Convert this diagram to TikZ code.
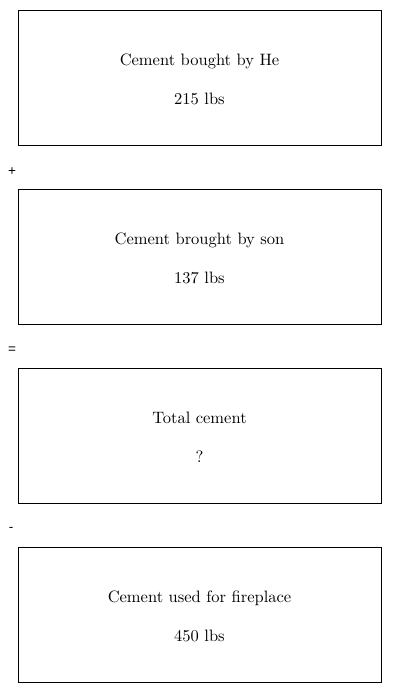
\documentclass[tikz,border=0pt]{standalone}
\usepackage{fontspec}
\newfontfamily\lmten{lmroman10-regular.otf}
\newfontfamily\opfont{Liberation Sans}
\begin{document}
\begin{tikzpicture}[x=1pt,y=-1pt,
  box/.style={draw,line width=0.8pt,minimum width=363pt,minimum height=135pt,inner sep=0pt},
  txt/.style={inner sep=0pt,align=center,font=\lmten\fontsize{16.5}{39}\selectfont,yshift=-2pt},
  op/.style={font=\opfont\fontsize{13.5}{15}\selectfont,inner sep=0pt,yshift=-1.5pt}]
\useasboundingbox (0,0) rectangle (400,693);
\node[box] (b1) at (199.5,77.5) {};
\node[box] (b2) at (199.5,256.5) {};
\node[box] (b3) at (199.5,435.5) {};
\node[box] (b4) at (199.5,614.5) {};
\node[txt] (t1) at (b1.center) {Cement bought by He\\215 lbs};
\node[txt] (t2) at (b2.center) {Cement brought by son\\137 lbs};
\node[txt] (t3) at (b3.center) {Total cement\\?};
\node[txt] (t4) at (b4.center) {Cement used for fireplace\\450 lbs};
\node[op] (o1) at (12,170) {+};
\node[op] (o2) at (12,349) {=};
\node[op] (o3) at (11,528) {-};
\end{tikzpicture}
\end{document}
